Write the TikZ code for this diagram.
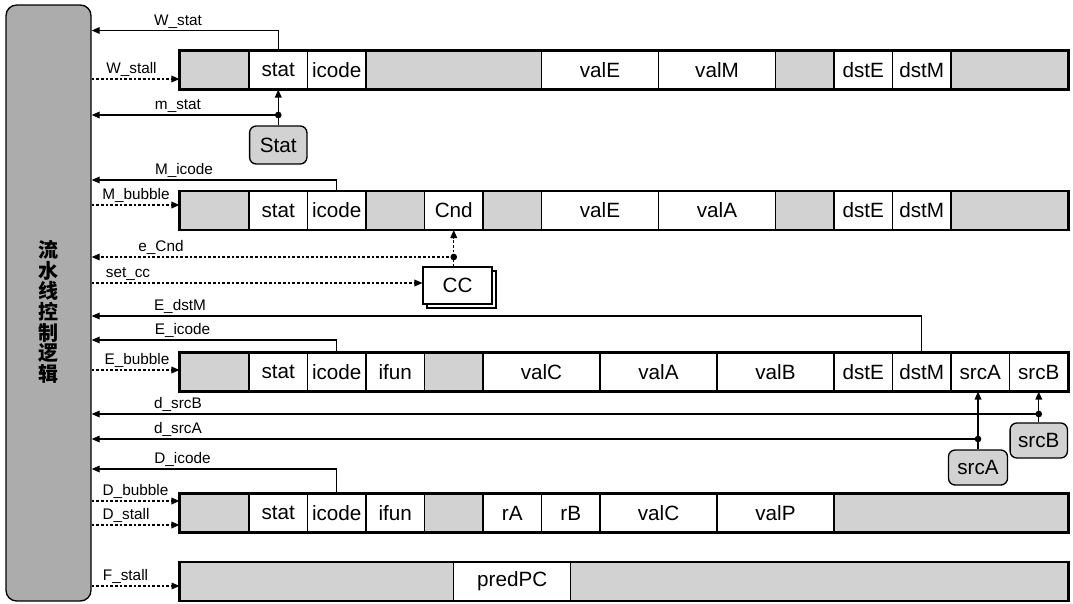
\documentclass[tikz,border=0pt]{standalone}
\usepackage{fontspec}
\setmainfont{Liberation Sans}
\newfontfamily\cjkfont{Noto Sans CJK SC}
\usetikzlibrary{arrows.meta,positioning,fit,shadows}

\begin{document}
\begin{tikzpicture}[
  x=0.75pt, y=-0.75pt,
  >={Triangle[length=6pt,width=5pt]},
  cell/.style={draw, line width=0.8pt, minimum height=28.5pt, minimum width=43.875pt, inner sep=0pt, font=\fontsize{15.5}{17}\selectfont},
  blank/.style={cell, fill=gray!35},
  reg/.style={draw, line width=1.6pt, inner sep=0pt},
  flag/.style={draw, rounded corners=5pt, fill=gray!35, line width=1pt, minimum height=26.25pt, minimum width=43pt, inner sep=0pt, font=\fontsize{15.5}{17}\selectfont},
  lbl/.style={font=\fontsize{11.5}{13}\selectfont, inner sep=1.5pt},
  arr/.style={->, line width=0.9pt},
  darr/.style={->, line width=0.9pt, dash pattern=on 2pt off 1.5pt},
  dot/.style={circle, fill, inner sep=0pt, minimum size=5pt},
]
\useasboundingbox (0,0) rectangle (1073,603);

% Control logic
\node[draw, rounded corners=8pt, fill=gray!65, line width=1pt, minimum width=63.75pt, minimum height=447pt] (ctrl) at (48.5,303) {};
\node[font=\cjkfont\bfseries\fontsize{15}{15.5}\selectfont, align=center] (ctrltext) at (48.5,312) {流\\水\\线\\控\\制\\逻\\辑};

% W register
\node[blank, minimum width=51.75pt] (W0) at (214.5,70) {};
\node[cell] (Wstat) at (278.25,70) {stat};
\node[cell] (Wicode) at (336.75,70) {icode};
\node[blank, minimum width=131.625pt] (W3) at (453.75,70) {};
\node[cell, minimum width=87.75pt] (WvalE) at (600,70) {valE};
\node[cell, minimum width=87.75pt] (WvalM) at (717,70) {valM};
\node[blank] (W10) at (804.75,70) {};
\node[cell] (WdstE) at (863.25,70) {dstE};
\node[cell] (WdstM) at (921.75,70) {dstM};
\node[blank, minimum width=87.75pt] (W13) at (1009.5,70) {};
\node[reg, fit=(W0)(W13)] (Wreg) {};

% M register
\node[blank, minimum width=51.75pt] (M0) at (214.5,210.5) {};
\node[cell] (Mstat) at (278.25,210.5) {stat};
\node[cell] (Micode) at (336.75,210.5) {icode};
\node[blank] (M3) at (395.25,210.5) {};
\node[cell] (MCnd) at (453.75,210.5) {Cnd};
\node[blank] (M5) at (512.25,210.5) {};
\node[cell, minimum width=87.75pt] (MvalE) at (600,210.5) {valE};
\node[cell, minimum width=87.75pt] (MvalA) at (717,210.5) {valA};
\node[blank] (M10) at (804.75,210.5) {};
\node[cell] (MdstE) at (863.25,210.5) {dstE};
\node[cell] (MdstM) at (921.75,210.5) {dstM};
\node[blank, minimum width=87.75pt] (M13) at (1009.5,210.5) {};
\node[reg, fit=(M0)(M13)] (Mreg) {};

% E register
\node[blank, minimum width=51.75pt] (E0) at (214.5,372) {};
\node[cell] (Estat) at (278.25,372) {stat};
\node[cell] (Eicode) at (336.75,372) {icode};
\node[cell] (Eifun) at (395.25,372) {ifun};
\node[blank] (E4) at (453.75,372) {};
\node[cell, minimum width=87.75pt] (EvalC) at (541.5,372) {valC};
\node[cell, minimum width=87.75pt] (EvalA) at (658.5,372) {valA};
\node[cell, minimum width=87.75pt] (EvalB) at (775.5,372) {valB};
\node[cell] (EdstE) at (863.25,372) {dstE};
\node[cell] (EdstM) at (921.75,372) {dstM};
\node[cell] (EsrcA) at (980.25,372) {srcA};
\node[cell] (EsrcB) at (1038.75,372) {srcB};
\node[reg, fit=(E0)(EsrcB)] (Ereg) {};

% D register
\node[blank, minimum width=51.75pt] (D0) at (214.5,513) {};
\node[cell] (Dstat) at (278.25,513) {stat};
\node[cell] (Dicode) at (336.75,513) {icode};
\node[cell] (Difun) at (395.25,513) {ifun};
\node[blank] (D4) at (453.75,513) {};
\node[cell] (DrA) at (512.25,513) {rA};
\node[cell] (DrB) at (570.75,513) {rB};
\node[cell, minimum width=87.75pt] (DvalC) at (658.5,513) {valC};
\node[cell, minimum width=87.75pt] (DvalP) at (775.5,513) {valP};
\node[blank, minimum width=175.5pt] (D11) at (951,513) {};
\node[reg, fit=(D0)(D11)] (Dreg) {};

% F register
\node[blank, minimum width=205.3pt] (F0) at (316.9,581.5) {};
\node[cell, minimum width=87.75pt] (FpredPC) at (512.25,581.5) {predPC};
\node[blank, minimum width=372.9pt] (F2) at (819.4,581.5) {};
\node[reg, fit=(F0)(F2)] (Freg) {};

% Stage blocks
\node[flag, minimum height=28.5pt] (Stat) at (278.25,145) {Stat};
\node[cell, fill=white, copy shadow={shadow xshift=3pt, shadow yshift=-3pt}, minimum width=51.75pt, minimum height=27.75pt] (CC) at (457.5,285.5) {CC};
\node[flag, minimum width=44.25pt] (srcAflag) at (978,467.5) {srcA};
\node[flag] (srcBflag) at (1038.75,440.5) {srcB};

% Signals to the control logic
\coordinate (wst) at (278.25,30.5);
\draw[arr] (Wstat.north) -- (wst) -- (ctrl.east |- wst);
\node[lbl, above] (lWstat) at (178,30.5) {W\_stat};
\draw[darr] (ctrl.east |- 0,79) -- (W0.west |- 0,79);
\node[lbl, above] (lWstall) at (131.5,79) {W\_stall};
\node[dot] (mst) at (278.25,115) {};
\draw[arr] (Stat) -- (Wstat);
\draw[arr] (mst.center) -- (ctrl.east |- mst);
\node[lbl, above] (lmstat) at (178,115) {m\_stat};

\coordinate (mic) at (336.75,180);
\draw[arr] (Micode.north) -- (mic) -- (ctrl.east |- mic);
\node[lbl, above] (lMicode) at (184,180) {M\_icode};
\draw[darr] (ctrl.east |- 0,205) -- (M0.west |- 0,205);
\node[lbl, above] (lMbubble) at (136,205) {M\_bubble};
\node[dot] (ecnd) at (453.75,257) {};
\draw[darr] (CC.north -| MCnd) -- (MCnd);
\draw[darr] (ecnd.center) -- (ctrl.east |- ecnd);
\node[lbl, above] (leCnd) at (161,257) {e\_Cnd};
\draw[darr] (ctrl.east |- 0,283) -- (CC.west |- 0,283);
\node[lbl, above] (lsetcc) at (128,283) {set\_cc};

\coordinate (edm) at (921.75,316);
\draw[arr] (EdstM.north) -- (edm) -- (ctrl.east |- edm);
\node[lbl, above] (lEdstM) at (180,316) {E\_dstM};
\coordinate (eic) at (336.75,340);
\draw[arr] (Eicode.north) -- (eic) -- (ctrl.east |- eic);
\node[lbl, above] (lEicode) at (182.5,340) {E\_icode};
\draw[darr] (ctrl.east |- 0,370) -- (E0.west |- 0,370);
\node[lbl, above] (lEbubble) at (137,370) {E\_bubble};

\node[dot] (dsb) at (1038.75,414) {};
\draw[arr] (srcBflag) -- (EsrcB);
\draw[arr] (dsb.center) -- (ctrl.east |- dsb);
\node[lbl, above] (ldsrcB) at (178,414) {d\_srcB};
\node[dot] (dsa) at (978,439) {};
\draw[arr] (srcAflag.north) -- (srcAflag.north |- EsrcA.south);
\draw[arr] (dsa.center) -- (ctrl.east |- dsa);
\node[lbl, above] (ldsrcA) at (178,439) {d\_srcA};

\coordinate (dic) at (336.75,469);
\draw[arr] (Dicode.north) -- (dic) -- (ctrl.east |- dic);
\node[lbl, above] (lDicode) at (182.5,469) {D\_icode};
\draw[darr] (ctrl.east |- 0,501) -- (D0.west |- 0,501);
\node[lbl, above] (lDbubble) at (135.5,501) {D\_bubble};
\draw[darr] (ctrl.east |- 0,525) -- (D0.west |- 0,525);
\node[lbl, above] (lDstall) at (126,525) {D\_stall};
\draw[darr] (ctrl.east |- 0,586) -- (F0.west |- 0,586);
\node[lbl, above] (lFstall) at (125.5,586) {F\_stall};
\end{tikzpicture}
\end{document}
